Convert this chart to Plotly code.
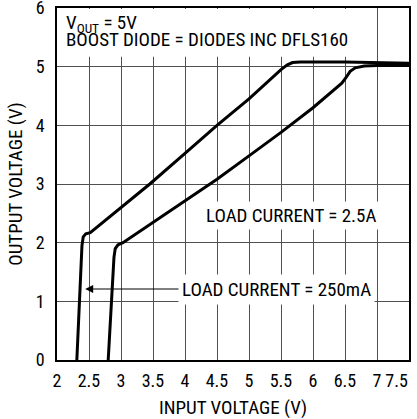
import plotly.graph_objects as go

# Data
x_250mA = [2.31, 2.36, 2.39, 2.41, 2.45, 2.52, 3.0, 3.45, 4.0, 4.5, 5.0, 5.5, 5.6, 5.68, 5.8, 6.5, 7.5]
y_250mA = [0.0, 1.2, 1.95, 2.1, 2.15, 2.17, 2.6, 3.0, 3.52, 4.0, 4.45, 4.95, 5.03, 5.07, 5.08, 5.08, 5.06]

x_2p5A = [2.80, 2.85, 2.89, 2.91, 2.95, 3.03, 3.5, 4.0, 4.5, 5.0, 5.5, 6.0, 6.45, 6.52, 6.58, 6.66, 6.8, 7.0, 7.5]
y_2p5A = [0.0, 1.0, 1.75, 1.9, 1.96, 2.0, 2.35, 2.72, 3.08, 3.48, 3.88, 4.3, 4.72, 4.82, 4.92, 4.98, 5.01, 5.02, 5.02]

x_ticks = [2, 2.5, 3, 3.5, 4, 4.5, 5, 5.5, 6, 6.5, 7, 7.5]
x_tick_labels = ["2", "2.5", "3", "3.5", "4", "4.5", "5", "5.5", "6", "6.5", "7", "7.5"]
y_ticks = [0, 1, 2, 3, 4, 5, 6]
y_tick_labels = ["0", "1", "2", "3", "4", "5", "6"]

FONT = "Liberation Sans Narrow, Arial Narrow, Roboto Condensed, Liberation Sans, sans-serif"
GRID = "#505050"
X_RANGE = [2, 7.5]
Y_RANGE = [0, 6]

# last x label sits inside the right edge in the reference: pad it on the right
x_tick_text = list(x_tick_labels)
x_tick_text[-1] = x_tick_text[-1] + "&nbsp;" * 6

fig = go.Figure()
fig.add_trace(go.Scatter(x=x_250mA, y=y_250mA, mode="lines",
                         line=dict(color="black", width=3), name="250mA"))
fig.add_trace(go.Scatter(x=x_2p5A, y=y_2p5A, mode="lines",
                         line=dict(color="black", width=3), name="2.5A"))

# white box behind the top-left notes
fig.add_shape(type="rect", xref="x", yref="y", x0=2.015, x1=6.66, y0=5.17, y1=5.985,
              fillcolor="white", line=dict(width=0), layer="above")

fig.add_annotation(x=2.11, y=5.73, xref="x", yref="y", xanchor="left", yanchor="middle",
                   text="V<sub>OUT</sub> = 5V", showarrow=False,
                   font=dict(family=FONT, size=19, color="black"))
fig.add_annotation(x=2.11, y=5.47, xref="x", yref="y", xanchor="left", yanchor="middle",
                   text="BOOST DIODE = DIODES INC DFLS160", showarrow=False,
                   font=dict(family=FONT, size=19, color="black"))

fig.add_annotation(x=5.66, y=2.47, xref="x", yref="y", xanchor="center", yanchor="middle",
                   text="LOAD CURRENT = 2.5A", showarrow=False, bgcolor="white", borderpad=2,
                   font=dict(family=FONT, size=19, color="black"))

fig.add_annotation(x=2.44, y=1.21, xref="x", yref="y", ax=5.43, ay=1.21, axref="x", ayref="y",
                   text="LOAD CURRENT = 250mA", showarrow=True, arrowhead=2, arrowsize=1.6,
                   arrowwidth=1, arrowcolor="black", bgcolor="white", borderpad=3,
                   font=dict(family=FONT, size=19, color="black"))

fig.update_layout(
    template="none",
    width=417, height=419,
    margin=dict(l=57, r=8, t=8, b=59),
    paper_bgcolor="white", plot_bgcolor="white",
    showlegend=False,
    font=dict(family=FONT, size=18, color="black"),
)
fig.update_xaxes(range=X_RANGE, tickmode="array", tickvals=x_ticks, ticktext=x_tick_text,
                 showgrid=True, gridcolor=GRID, gridwidth=1,
                 showline=True, linecolor="black", linewidth=1.5, mirror=True,
                 zeroline=False, ticks="outside", ticklen=4, tickcolor="rgba(0,0,0,0)",
                 ticklabeloverflow="allow",
                 tickfont=dict(family=FONT, size=18, color="black"),
                 title=dict(text="INPUT VOLTAGE (V)", standoff=14,
                            font=dict(family=FONT, size=19, color="black")),
                 automargin=False)
fig.update_yaxes(range=Y_RANGE, tickmode="array", tickvals=y_ticks, ticktext=y_tick_labels,
                 showgrid=True, gridcolor=GRID, gridwidth=1,
                 showline=True, linecolor="black", linewidth=1.5, mirror=True,
                 zeroline=False, ticks="outside", ticklen=7, tickcolor="rgba(0,0,0,0)",
                 ticklabeloverflow="allow",
                 tickfont=dict(family=FONT, size=18, color="black"),
                 title=dict(text="OUTPUT VOLTAGE (V)", standoff=8,
                            font=dict(family=FONT, size=19, color="black")),
                 automargin=False)

fig.write_html("out.html", post_script="document.body.style.margin='0';",
               config={"displayModeBar": False})
